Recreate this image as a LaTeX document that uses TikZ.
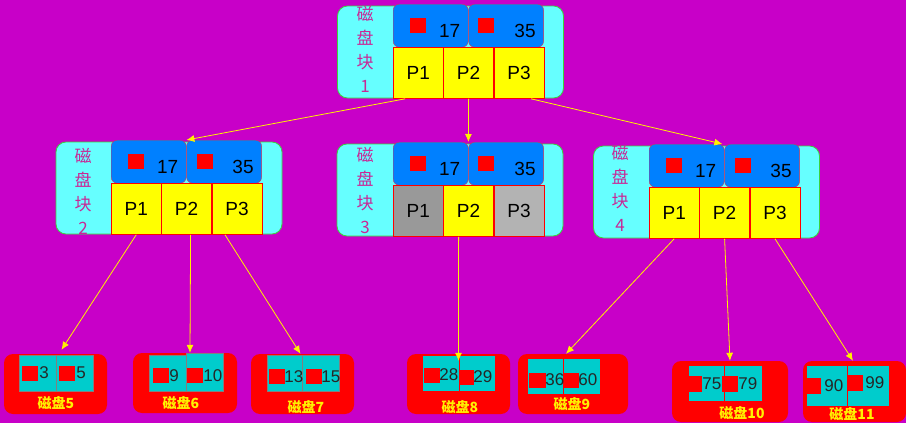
\documentclass[tikz,border=0pt]{standalone}
\usepackage{fontspec}
\setmainfont{Liberation Sans}
\newfontfamily\cjk{Noto Sans CJK SC}
\usetikzlibrary{positioning,arrows.meta}
\definecolor{bgmag}{RGB}{200,0,200}
\definecolor{blockcyan}{RGB}{102,255,255}
\definecolor{blockedge}{RGB}{60,210,60}
\definecolor{keyblue}{RGB}{0,128,255}
\definecolor{keyedge}{RGB}{215,50,80}
\definecolor{cellyellow}{RGB}{255,255,0}
\definecolor{celldark}{RGB}{153,153,153}
\definecolor{celllight}{RGB}{179,179,179}
\definecolor{leafcyan}{RGB}{0,204,204}
\definecolor{labelpink}{RGB}{200,40,150}
\begin{document}
\begin{tikzpicture}[x=1pt,y=-1pt,
    blockbox/.style={draw=blockedge,fill=blockcyan,line width=0.8pt,rounded corners=10pt,
      minimum width=226pt,minimum height=92pt,inner sep=0pt},
    keybox/.style={draw=keyedge,fill=keyblue,rounded corners=6pt,minimum width=75pt,
      minimum height=43pt,text width=59pt,inner xsep=8pt,inner ysep=0pt,align=right,
      text height=23pt,text depth=0pt,font=\fontsize{19}{19}\selectfont,anchor=north west},
    pcell/.style={draw=red,fill=cellyellow,minimum width=50pt,minimum height=51pt,
      inner sep=0pt,text depth=0pt,font=\fontsize{19}{19}\selectfont},
    keysq/.style={fill=red,minimum width=16pt,minimum height=15pt,inner sep=0pt},
    blocklabel/.style={text=labelpink,align=center,inner sep=0pt,
      font=\cjk\fontsize{17}{24}\selectfont},
    leafbox/.style={fill=red,rounded corners=9pt,inner sep=0pt,minimum height=60pt},
    leafcell/.style={draw=gray,fill=leafcyan,minimum height=36pt,inner sep=0pt},
    leafsq/.style={fill=red,minimum width=16pt,minimum height=15pt,inner sep=0pt},
    leafnum/.style={inner sep=0pt,text=black!85,font=\fontsize{17}{17}\selectfont},
    leaflabel/.style={text=yellow,inner sep=0pt,font=\cjk\bfseries\fontsize{14}{14}\selectfont},
    yellowarrow/.style={draw=yellow,line width=0.8pt,-{Latex[length=8pt,width=7pt]}}]
  \fill[bgmag] (0,0) rectangle (906,423);
  \useasboundingbox (0,0) rectangle (906,423);

  % disk block 1
  \node[blockbox] (b1) at (450.5,52) {};
  \node[keybox] (b1k1) at (393,4) {17};
  \node[keybox,right=0pt of b1k1] (b1k2) {35};
  \node[pcell,anchor=north west] (b1p1) at (b1k1.south west) {P1};
  \node[pcell,right=0pt of b1p1] (b1p2) {P2};
  \node[pcell,right=0pt of b1p2] (b1p3) {P3};
  \node[keysq,right=17pt of b1k1.west] (b1s1) {};
  \node[keysq,right=9.5pt of b1k2.west] (b1s2) {};
  \node[blocklabel] (b1t) at (365,49) {磁\\盘\\块\\1};

  % disk block 2
  \node[blockbox] (b2) at (169,188) {};
  \node[keybox] (b2k1) at (111,140) {17};
  \node[keybox,right=0pt of b2k1] (b2k2) {35};
  \node[pcell,anchor=north west] (b2p1) at (b2k1.south west) {P1};
  \node[pcell,right=0pt of b2p1] (b2p2) {P2};
  \node[pcell,right=0pt of b2p2] (b2p3) {P3};
  \node[keysq,right=17pt of b2k1.west] (b2s1) {};
  \node[keysq,right=10pt of b2k2.west] (b2s2) {};
  \node[blocklabel] (b2t) at (83,191) {磁\\盘\\块\\2};

  % disk block 3
  \node[blockbox] (b3) at (450,190) {};
  \node[keybox] (b3k1) at (393,142) {17};
  \node[keybox,right=0pt of b3k1] (b3k2) {35};
  \node[pcell,fill=celldark,anchor=north west] (b3p1) at (b3k1.south west) {P1};
  \node[pcell,right=0pt of b3p1] (b3p2) {P2};
  \node[pcell,fill=celllight,right=0pt of b3p2] (b3p3) {P3};
  \node[keysq,right=17pt of b3k1.west] (b3s1) {};
  \node[keysq,right=9.5pt of b3k2.west] (b3s2) {};
  \node[blocklabel] (b3t) at (365,190) {磁\\盘\\块\\3};

  % disk block 4
  \node[blockbox] (b4) at (706.5,192) {};
  \node[keybox] (b4k1) at (649,144) {17};
  \node[keybox,right=0pt of b4k1] (b4k2) {35};
  \node[pcell,anchor=north west] (b4p1) at (b4k1.south west) {P1};
  \node[pcell,right=0pt of b4p1] (b4p2) {P2};
  \node[pcell,right=0pt of b4p2] (b4p3) {P3};
  \node[keysq,right=17pt of b4k1.west] (b4s1) {};
  \node[keysq,right=10pt of b4k2.west] (b4s2) {};
  \node[blocklabel] (b4t) at (620,188) {磁\\盘\\块\\4};

  % leaf disks
  \node[leafbox,minimum width=103pt] (l5) at (55.5,384) {};
  \node[leafcell,minimum width=37pt] (l5a) at (37.5,373) {};
  \node[leafcell,minimum width=37pt] (l5b) at (74.5,373) {};
  \node[leafsq] (l5s1) at (30,373) {};
  \node[leafsq] (l5s2) at (67,373) {};
  \node[leafnum,right=1pt of l5s1] {3};
  \node[leafnum,right=1pt of l5s2] {5};
  \node[leaflabel] (l5t) at (56,403) {磁盘5};

  \node[leafbox,minimum width=104pt] (l6) at (185,383) {};
  \node[leafcell,minimum width=37pt] (l6a) at (167.5,373) {};
  \node[leafcell,minimum width=37pt,minimum height=38pt] (l6b) at (204.5,372) {};
  \node[leafsq] (l6s1) at (161,375.5) {};
  \node[leafsq] (l6s2) at (195,375.5) {};
  \node[leafnum,right=0pt of l6s1] {9};
  \node[leafnum,right=0pt of l6s2] {10};
  \node[leaflabel] (l6t) at (181,403) {磁盘6};

  \node[leafbox,minimum width=103pt] (l7) at (302.5,384) {};
  \node[leafcell,minimum width=35pt] (l7a) at (284.5,373) {};
  \node[leafcell,minimum width=37pt] (l7b) at (320.5,373) {};
  \node[leafsq] (l7s1) at (277,376.5) {};
  \node[leafsq] (l7s2) at (314,376.5) {};
  \node[leafnum,right=-1pt of l7s1] {13};
  \node[leafnum,right=-1pt of l7s2] {15};
  \node[leaflabel] (l7t) at (306,407) {磁盘7};

  \node[leafbox,minimum width=103pt] (l8) at (458.5,384) {};
  \node[leafcell,draw=red,minimum width=37pt] (l8a) at (440.5,373) {};
  \node[leafcell,draw=red,minimum width=36pt] (l8b) at (477,373) {};
  \node[leafsq] (l8s1) at (432,375) {};
  \node[leafsq,minimum width=15pt] (l8s2) at (466.5,377) {};
  \node[leafnum,right=-1pt of l8s1] {28};
  \node[leafnum,right=-1pt of l8s2] {29};
  \node[leaflabel] (l8t) at (460,407) {磁盘8};

  \node[leafbox,minimum width=110pt] (l9) at (573,384) {};
  \node[leafcell,draw=red,minimum width=36pt] (l9a) at (545,376) {};
  \node[leafcell,draw=red,minimum width=37pt] (l9b) at (581.5,376) {};
  \node[leafsq,minimum width=17pt] (l9s1) at (537.5,380) {};
  \node[leafsq] (l9s2) at (571,380) {};
  \node[leafnum,right=-1pt of l9s1] {36};
  \node[leafnum,right=-1pt of l9s2] {60};
  \node[leaflabel] (l9t) at (572,404) {磁盘9};

  \node[leafbox,minimum width=116pt,minimum height=61pt] (l10) at (730,391.5) {};
  \node[leafcell,draw=red,minimum width=36pt] (l10a) at (706,383) {};
  \node[leafcell,draw=red,minimum width=38pt] (l10b) at (743,383) {};
  \node[leafsq,minimum width=14pt,minimum height=16pt] (l10s1) at (695,384) {};
  \node[leafsq,minimum height=16pt] (l10s2) at (730,384) {};
  \node[leafnum,right=0pt of l10s1] {75};
  \node[leafnum,right=0pt of l10s2] {79};
  \node[leaflabel] (l10t) at (742,413) {磁盘10};

  \node[leafbox,minimum width=103pt,minimum height=61pt] (l11) at (854.5,391.5) {};
  \node[leafcell,draw=red,minimum width=41pt,minimum height=41pt] (l11a) at (826.5,385.5) {};
  \node[leafcell,draw=red,minimum width=42pt,minimum height=41pt] (l11b) at (868,385.5) {};
  \node[leafsq,minimum width=15pt,minimum height=16pt] (l11s1) at (813.5,386) {};
  \node[leafsq,minimum width=15pt,minimum height=16pt] (l11s2) at (855.5,383) {};
  \node[leafnum,right=3pt of l11s1] {90};
  \node[leafnum,right=2pt of l11s2] {99};
  \node[leaflabel] (l11t) at (852,414) {磁盘11};

  \begin{scope}[yellowarrow]
    \draw ([xshift=-13pt]b1p1.south) to (b2k1.north east);
    \draw (b1p2.south) to (b3k1.north east);
    \draw ([xshift=12pt]b1p3.south) to ([xshift=-2pt]b4k1.north east);
    \draw (b2p1.south) to ([xshift=6pt,yshift=4pt]l5.north);
    \draw ([xshift=4pt]b2p2.south) to ([xshift=5pt]l6.north);
    \draw ([xshift=-12pt]b2p3.south) to ([xshift=-2pt]l7.north);
    \draw ([xshift=-10pt]b3p2.south) to ([yshift=-7pt]l8.north);
    \draw (b4p1.south) to ([xshift=-7pt]l9.north);
    \draw (b4p2.south) to (l10.north);
    \draw (b4p3.south) to ([xshift=-1.5pt]l11.north);
  \end{scope}
\end{tikzpicture}
\end{document}
